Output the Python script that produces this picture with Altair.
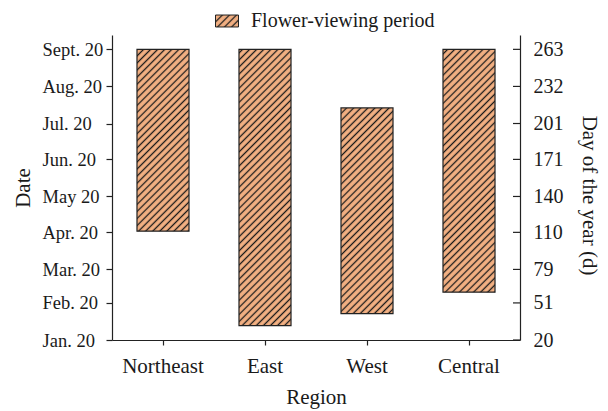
import altair as alt
import pandas as pd
import jinja2

# ---------------- data ----------------
regions = ["Northeast", "East", "West", "Central"]
start_day = [111, 32, 42, 60]
end_day = [263, 263, 214, 263]
series_name = "Flower-viewing period"

day_ticks = [20, 51, 79, 110, 140, 171, 201, 232, 263]
date_labels = ["Jan. 20", "Feb. 20", "Mar. 20", "Apr. 20", "May 20",
               "Jun. 20", "Jul. 20", "Aug. 20", "Sept. 20"]

df = pd.DataFrame({"region": regions, "start": start_day, "end": end_day,
                   "series": [series_name] * len(regions)})
ticks_df = pd.DataFrame({"day": day_ticks})

# ---------------- style ----------------
FONT = "Liberation Serif"
W, H = 408, 305
Y_DOMAIN = [20, 275]
INK = "#1a1a1a"

label_expr = ("[" + ",".join(f"'{d}'" for d in date_labels) + "][indexof(["
              + ",".join(str(v) for v in day_ticks) + "], datum.value)]")


def yscale():
    return alt.Scale(domain=Y_DOMAIN, nice=False, zero=False)


bars = alt.Chart(df).mark_bar(stroke="#222222", strokeWidth=1.2).encode(
    x=alt.X("region:N", sort=regions,
            scale=alt.Scale(paddingInner=0.49, paddingOuter=0.245),
            axis=alt.Axis(title="Region", labelAngle=0, labelFontSize=21,
                          titleFontSize=21, tickSize=5, labelPadding=10,
                          titlePadding=10)),
    y=alt.Y("start:Q", scale=yscale(),
            axis=alt.Axis(title="Date", orient="left", values=day_ticks,
                          labelExpr=label_expr, labelAlign="left",
                          labelPadding=64, labelFontSize=18.5, tickSize=6,
                          titleFontSize=21, titlePadding=9)),
    y2="end:Q",
    fill=alt.Fill("series:N", scale=alt.Scale(range=["url(#hatch)"]),
                  legend=alt.Legend(title=None, orient="none", legendX=103,
                                    legendY=-26,
                                    symbolType="M-1,-0.52L1,-0.52L1,0.52L-1,0.52Z",
                                    symbolSize=529, symbolStrokeColor="#222222",
                                    symbolStrokeWidth=1, labelFontSize=20,
                                    labelOffset=12, padding=0, labelLimit=0,
                                    labelFont=FONT, labelColor=INK)),
)

right = alt.Chart(ticks_df).mark_rule(color="#222222", strokeWidth=1.2).encode(
    y=alt.Y("day:Q", scale=yscale(),
            axis=alt.Axis(title="Day of the year (d)", orient="right",
                          values=day_ticks, format="d", ticks=False,
                          tickSize=0, labelPadding=13, labelFontSize=20,
                          titleFontSize=21, titlePadding=15, titleY=160)),
    x=alt.value(W - 7),
    x2=alt.value(W),
)

chart = (
    alt.layer(bars, right)
    .resolve_scale(y="independent")
    .properties(width=W, height=H,
                padding={"left": 104, "top": 27, "right": 80, "bottom": 71},
                autosize=alt.AutoSizeParams(type="none"))
    .configure(font=FONT)
    .configure_view(strokeOpacity=0)
    .configure_axis(grid=False, domainColor="#222222", tickColor="#222222",
                    domainWidth=1.2, tickWidth=1.2,
                    labelColor=INK, titleColor=INK, titleFontWeight="normal",
                    labelFont=FONT, titleFont=FONT)
)

PAGE = jinja2.Template("""<!DOCTYPE html>
<html>
<head>
  <meta charset="utf-8">
  <style>
    html, body { overflow: hidden; }
    #{{ output_div }}.vega-embed { width: 100%; display: flex; }
  </style>
  <script type="text/javascript" src="{{ base_url }}/vega@{{ vega_version }}"></script>
  <script type="text/javascript" src="{{ base_url }}/vega-lite@{{ vegalite_version }}"></script>
  <script type="text/javascript" src="{{ base_url }}/vega-embed@{{ vegaembed_version }}"></script>
</head>
<body>
  <svg width="0" height="0" style="position:absolute">
    <defs>
      <pattern id="hatch" patternUnits="userSpaceOnUse" width="5" height="5"
               patternTransform="rotate(45)">
        <rect x="0" y="0" width="5" height="5" fill="#F4B183"></rect>
        <line x1="2.5" y1="-1" x2="2.5" y2="6" stroke="#1a1a1a" stroke-width="1.3"></line>
      </pattern>
    </defs>
  </svg>
  <div id="{{ output_div }}"></div>
  <script type="text/javascript">
    (function(vegaEmbed) {
      var spec = {{ spec }};
      var embedOpt = {{ embed_options }};
      var el = document.getElementById('{{ output_div }}');
      vegaEmbed("#{{ output_div }}", spec, embedOpt)
        .catch(function(err) { el.innerHTML = '<pre>' + err + '</pre>'; });
    })(vegaEmbed);
  </script>
</body>
</html>
""")

chart.save("out.html", embed_options={"renderer": "svg", "actions": False},
           template=PAGE)
